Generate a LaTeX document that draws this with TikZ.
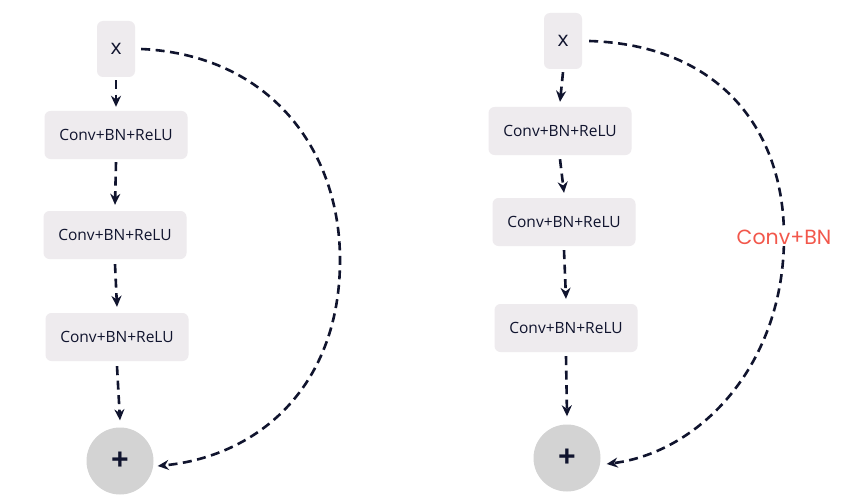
\documentclass[tikz,border=0pt]{standalone}
\usepackage{fontspec}
\setmainfont{Open Sans}
\newfontfamily\labelfont{Poppins}
\usetikzlibrary{arrows.meta}
\definecolor{boxgray}{HTML}{EEEBEE}
\definecolor{plusgray}{HTML}{D3D3D3}
\definecolor{ink}{HTML}{10142E}
\definecolor{coral}{HTML}{F2574B}
\tikzset{
  inbox/.style={draw=none, fill=boxgray, rounded corners=6pt, minimum width=38pt, minimum height=56pt, inner sep=0pt, font=\fontsize{21}{23}\selectfont, text=ink},
  convbox/.style={draw=none, fill=boxgray, rounded corners=6pt, minimum width=143pt, minimum height=48pt, inner sep=0pt, font=\fontsize{15.5}{17}\selectfont, text=ink},
  plusnode/.style={circle, draw=none, fill=plusgray, minimum size=67pt, inner sep=0pt, font=\bfseries\fontsize{31}{33}\selectfont, text=ink},
  flow/.style={draw=ink, line width=2.6pt, dash pattern=on 9pt off 5.5pt, -{Stealth[length=11pt,width=10pt]}},
  skiplabel/.style={fill=white, inner sep=2pt, text=coral, font=\labelfont\fontsize{20.5}{22}\selectfont}
}
\begin{document}
\begin{tikzpicture}[x=1pt,y=-1pt]
\useasboundingbox[fill=white] (0,0) rectangle (842,500);
% left
\node[inbox] (xL) at (116,49) {x};
\node[convbox] (c1L) at (116,135) {Conv+BN+ReLU};
\node[convbox] (c2L) at (115,235) {Conv+BN+ReLU};
\node[convbox] (c3L) at (117,337) {Conv+BN+ReLU};
\node[plusnode] (pL) at (120,461) {+};
\draw[flow] ([yshift=-3pt]xL.south) -- ([yshift=4pt]c1L.north);
\draw[flow] ([yshift=-3pt]c1L.south) -- ([yshift=6pt]c2L.north);
\draw[flow] ([yshift=-5pt]c2L.south) -- ([yshift=6pt]c3L.north);
\draw[flow] ([yshift=-5pt]c3L.south) -- ([yshift=7pt]pL.north);
\draw[flow] ([xshift=6pt]xL.east) .. controls (270,55) and (340,150) .. (340,260) .. controls (340,385) and (260,456) .. ([xshift=4pt,yshift=-5pt]pL.east);
% right
\node[inbox] (xR) at (563,41) {x};
\node[convbox] (c1R) at (560,131) {Conv+BN+ReLU};
\node[convbox] (c2R) at (564,222) {Conv+BN+ReLU};
\node[convbox] (c3R) at (566,328) {Conv+BN+ReLU};
\node[plusnode] (pR) at (567,458) {+};
\draw[flow] ([yshift=-3pt]xR.south) -- ([yshift=5pt]c1R.north);
\draw[flow] ([yshift=-4pt]c1R.south) -- ([yshift=5pt]c2R.north);
\draw[flow] ([yshift=-4pt]c2R.south) -- ([yshift=5pt]c3R.north);
\draw[flow] ([yshift=-4pt]c3R.south) -- ([yshift=8pt]pR.north);
\draw[flow] ([xshift=7pt]xR.east) .. controls (720,45) and (784,130) .. (784,237) .. controls (784,365) and (700,452) .. ([xshift=6pt,yshift=-6pt]pR.east);
\node[skiplabel] (lblR) at (784,237) {Conv+BN};
\end{tikzpicture}
\end{document}
